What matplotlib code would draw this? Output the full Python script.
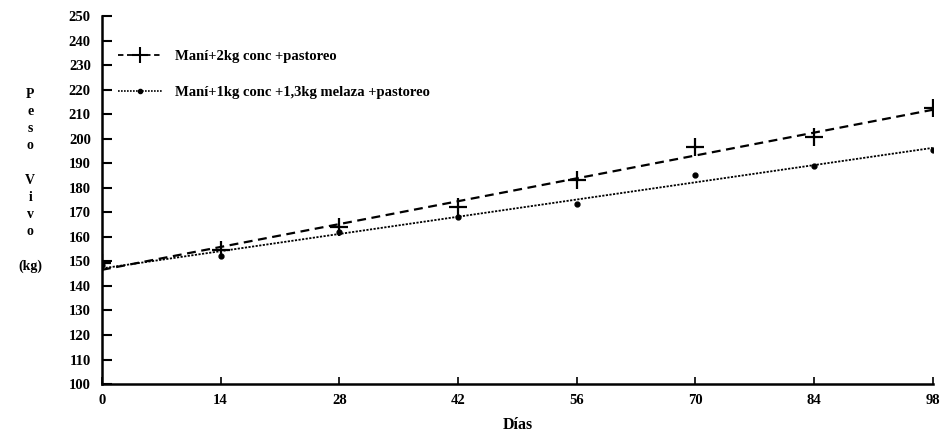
import matplotlib.pyplot as plt
import numpy as np
from matplotlib.lines import Line2D

dias = [0, 14, 28, 42, 56, 70, 84, 98]
peso_conc = [149.5, 154.5, 164.0, 172.0, 183.3, 196.7, 200.8, 212.6]
peso_melaza = [148.5, 152.0, 162.0, 168.0, 173.2, 185.4, 189.0, 195.5]

label_conc = "Maní+2kg conc +pastoreo"
label_melaza = "Maní+1kg conc +1,3kg melaza +pastoreo"

plt.rcParams['font.family'] = ['Liberation Serif', 'DejaVu Serif']
plt.rcParams['font.weight'] = 'bold'

fig = plt.figure(figsize=(9.44, 4.33), dpi=100)
ax = fig.add_axes([0.108, 0.113, 0.880, 0.850])

x = np.array(dias, dtype=float)

# linear trend of each series
for y, ls, lw in [(peso_conc, (0, (4, 2.5)), 1.6), (peso_melaza, (0, (1.2, 0.8)), 1.3)]:
    m, b = np.polyfit(x, y, 1)
    ax.plot([x[0], x[-1]], [b + m * x[0], b + m * x[-1]], color='black', ls=ls, lw=lw)

ax.plot(x, peso_conc, ls='none', marker='+', ms=13, mew=1.6, color='black')
ax.plot(x, peso_melaza, ls='none', marker='o', ms=3.5, color='black')

ax.set_xlim(0, 98)
ax.set_ylim(100, 250)
ax.set_xticks(dias)
ax.set_yticks(np.arange(100, 251, 10))
ax.spines['top'].set_visible(False)
ax.spines['right'].set_visible(False)
ax.spines['left'].set_linewidth(1.8)
ax.spines['bottom'].set_linewidth(1.8)
ax.tick_params(axis='y', direction='in', length=7, width=1.5, labelsize=10.5, pad=8)
ax.tick_params(axis='x', direction='in', length=5, width=1.2, labelsize=10.5, pad=7)
for lab in ax.get_xticklabels() + ax.get_yticklabels():
    lab.set_fontweight('bold')

ax.set_xlabel("Días", fontsize=11.5, fontweight='bold', labelpad=7)
fig.text(0.032, 0.583, "P\ne\ns\no\n\nV\ni\nv\no\n\n(kg)", ha='center', va='center',
         fontsize=10, fontweight='bold', linespacing=1.42)

handles = [
    Line2D([], [], color='black', ls=(0, (3, 2)), lw=1.3, marker='+', ms=12, mew=1.5),
    Line2D([], [], color='black', ls=(0, (1, 0.8)), lw=1.2, marker='o', ms=3),
]
fig.legend(handles, [label_conc, label_melaza], loc='upper left',
           bbox_to_anchor=(0.125, 0.885), frameon=False,
           handlelength=3.0, handletextpad=0.9, labelspacing=1.55,
           borderpad=0, borderaxespad=0, prop={'weight': 'bold', 'size': 10.5})

fig.savefig("out.png", dpi=100)
